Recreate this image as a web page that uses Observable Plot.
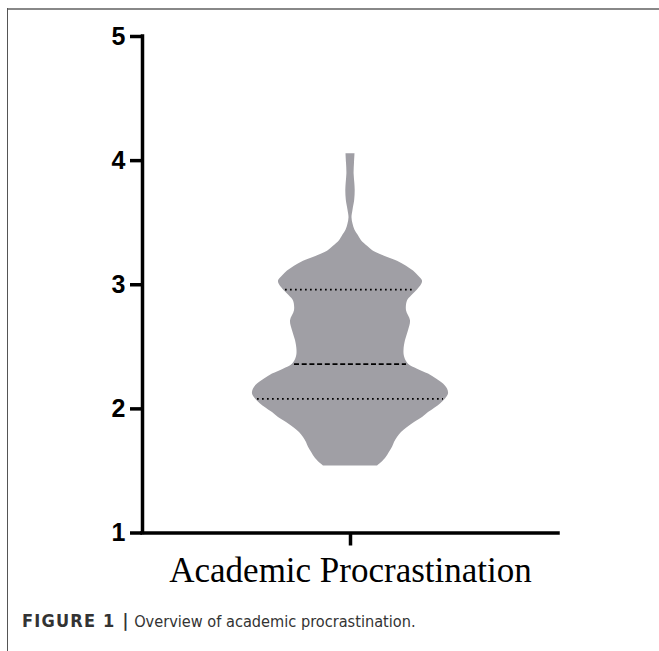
<!DOCTYPE html>
<html><head><meta charset="utf-8">
<script src="https://cdn.jsdelivr.net/npm/d3@7"></script>
<script src="https://cdn.jsdelivr.net/npm/@observablehq/plot@0.6"></script>
<style>
html,body{margin:0;padding:0;background:#fff;}
#wrap{position:relative;width:659px;height:651px;overflow:hidden;background:#fff;}
#topline{position:absolute;left:7px;top:8px;width:652px;height:2px;background:#888;}
#leftline{position:absolute;left:7px;top:8px;width:1px;height:643px;background:#555;}
#chart{position:absolute;left:0;top:0;}
#caption{position:absolute;left:22px;top:610px;font-family:"DejaVu Sans Condensed","Liberation Sans",Arial,sans-serif;font-stretch:condensed;font-size:16.2px;color:#333;white-space:nowrap;}
#caption b{font-size:18px;letter-spacing:1.2px;}
</style></head><body>
<div id="wrap"><div id="topline"></div><div id="leftline"></div><div id="chart"></div>
<div id="caption"><b>FIGURE 1 |</b> Overview of academic procrastination.</div></div>
<script>
const categories = ["Academic Procrastination"];
const yTicks = [1, 2, 3, 4, 5];
// violin outline: score level and half-width (density, px-like units)
const levels  = [1.54, 1.56, 1.60, 1.65, 1.69, 1.73, 1.77, 1.81, 1.85, 1.89, 1.93, 1.97, 2.01, 2.04, 2.08, 2.12, 2.16, 2.20, 2.24, 2.28, 2.32, 2.36, 2.42, 2.47, 2.55, 2.63, 2.71, 2.79, 2.87, 2.91, 2.95, 3.00, 3.03, 3.07, 3.11, 3.15, 3.19, 3.23, 3.27, 3.31, 3.355, 3.40, 3.44, 3.49, 3.54, 3.60, 3.68, 3.76, 3.82, 3.895, 3.98, 4.056];
const density = [27, 30, 35, 39, 42, 44, 47, 51, 57, 64, 72, 78, 85, 90, 95, 98, 97, 93, 86, 78, 67, 58, 54, 53.5, 55, 58, 60, 56, 57, 61, 66, 71, 72, 68, 63, 56, 47, 34, 23, 17, 11, 7.5, 4.5, 2.5, 1.5, 2.5, 4.2, 4.7, 4.3, 3.6, 4.0, 4.5];
const quartileValues = [2.08, 2.96];
const medianValue = [2.36];

const violin = levels.map((v, i) => ({v, w: density[i]}));
const halfAt = v => {
  const i = d3.bisectLeft(levels, v);
  if (i <= 0) return density[0];
  if (i >= levels.length) return density[density.length - 1];
  const t = (v - levels[i - 1]) / (levels[i] - levels[i - 1]);
  return density[i - 1] + t * (density[i] - density[i - 1]) - 2;
};
const qRows = quartileValues.map(v => ({v, w: halfAt(v)}));
const mRows = medianValue.map(v => ({v, w: halfAt(v)}));
const W = 208;

const chart = Plot.plot({
  width: 659, height: 600,
  marginTop: 36, marginBottom: 67.5, marginLeft: 142, marginRight: 101,
  x: {domain: [-W, W]},
  y: {domain: [1, 5]},
  style: {background: "transparent", color: "#000", overflow: "visible"},
  marks: [
    Plot.areaX(violin, {y: "v", x1: d => -d.w, x2: d => d.w, fill: "#a09fa5", curve: "catmull-rom"}),
    Plot.ruleY(qRows, {y: "v", x1: d => -d.w, x2: d => d.w, stroke: "#000", strokeWidth: 1.7, strokeDasharray: "1.7,3.3"}),
    Plot.ruleY(mRows, {y: "v", x1: d => -d.w, x2: d => d.w, stroke: "#000", strokeWidth: 1.8, strokeDasharray: "5,2.7"}),
    Plot.axisY({ticks: yTicks, tickSize: 12, tickPadding: 5, strokeWidth: 3.5, fontSize: 25, fontWeight: "bold",
      fontFamily: "Liberation Sans, Arial, sans-serif", label: null, tickFormat: d => String(d)}),
    Plot.axisX({ticks: [0], tickSize: 13, tickPadding: 11, strokeWidth: 3.5, tickFormat: () => categories[0],
      fontSize: 35, fontFamily: "Liberation Serif, Times New Roman, serif", label: null}),
    Plot.ruleX([-W], {y1: 1, y2: 5, stroke: "#000", strokeWidth: 3.5, strokeLinecap: "square"}),
    Plot.ruleY([1], {x1: -W, x2: W, stroke: "#000", strokeWidth: 3.5, strokeLinecap: "square"})
  ]
});
document.getElementById("chart").appendChild(chart);
</script>
</body></html>
